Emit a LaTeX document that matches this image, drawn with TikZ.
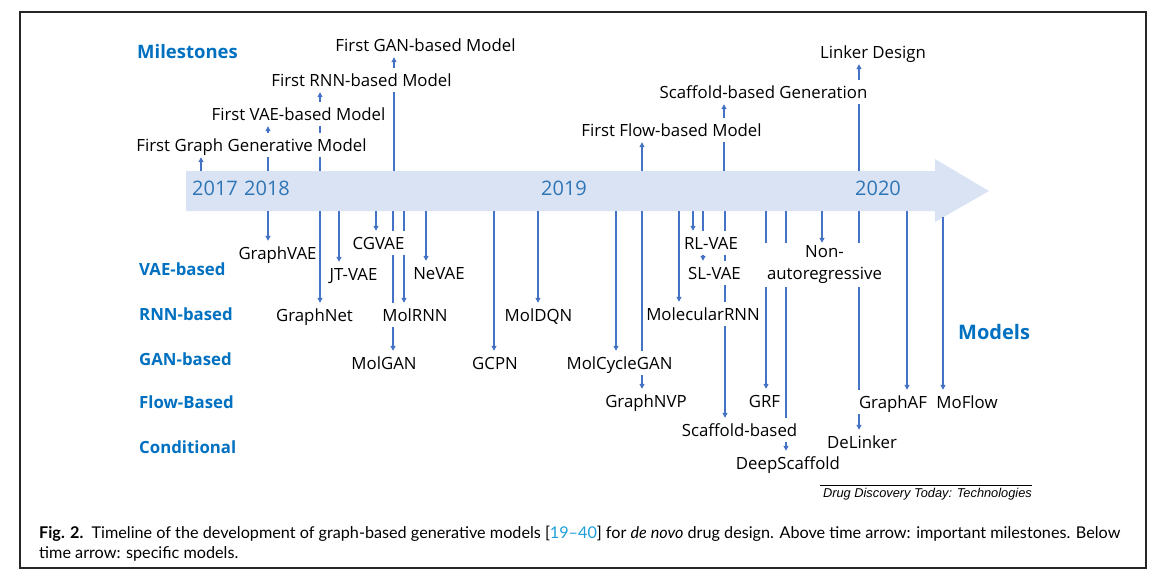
\documentclass[tikz,border=0pt]{standalone}
\usepackage{fontspec}
\setmainfont{Open Sans}
\newfontfamily\capfont[Ligatures=TeX]{Lato}
\newfontfamily\srcfont{Liberation Sans}
\usetikzlibrary{arrows.meta}
\definecolor{lineblue}{HTML}{4472C4}
\definecolor{bandblue}{HTML}{DAE3F3}
\definecolor{yearblue}{HTML}{2E75B6}
\definecolor{headblue}{HTML}{0070C0}
\definecolor{refblue}{HTML}{1E9FD8}
\definecolor{framegray}{HTML}{262626}
\pgfdeclarelayer{bg}
\pgfsetlayers{bg,main}
\begin{document}
\begin{tikzpicture}[x=1pt,y=-1pt,
  lbl/.style={fill=white, font=\fontsize{16.8}{20}\selectfont, inner xsep=1.5pt, inner ysep=2pt, text height=16pt, text depth=4pt},
  head/.style={font=\bfseries\fontsize{16.8}{20}\selectfont, text=headblue, anchor=west, inner sep=0pt},
  year/.style={font=\fontsize{20}{24}\selectfont, text=yearblue, inner sep=0pt},
  conn/.style={draw=lineblue, line width=1.2pt, -{Triangle[length=5pt,width=5pt]}}]
\useasboundingbox (0,0) rectangle (1153,574);
\draw[framegray, line width=1.5pt] (20,12) rectangle (1146,568);

% milestones
\node[head, font=\bfseries\fontsize{18.5}{22}\selectfont] (hmile) at (137,52) {Milestones};
\node[lbl] (m1) at (251.5,145) {First Graph Generative Model};
\node[lbl] (m2) at (298.5,114) {First VAE-based Model};
\node[lbl] (m3) at (361.5,80) {First RNN-based Model};
\node[lbl] (m4) at (425.5,45) {First GAN-based Model};
\node[lbl] (m5) at (671.5,130) {First Flow-based Model};
\node[lbl] (m6) at (763.5,92) {Scaffold-based Generation};
\node[lbl] (m7) at (873,52) {Linker Design};

% years
\node[year] (y17) at (215,188) {2017};
\node[year] (y18) at (267,188) {2018};
\node[year] (y19) at (564,188) {2019};
\node[year] (y20) at (878,188) {2020};

% row headings
\node[head] (hvae) at (139,269) {VAE-based};
\node[head] (hrnn) at (139,314) {RNN-based};
\node[head] (hgan) at (139,359) {GAN-based};
\node[head] (hflow) at (139,402) {Flow-Based};
\node[head] (hcond) at (139,447) {Conditional};
\node[head, font=\bfseries\fontsize{20}{24}\selectfont] (hmod) at (958,332) {Models};

% models
\node[lbl] (gvae) at (277.5,253) {GraphVAE};
\node[lbl] (gnet) at (314.5,315) {GraphNet};
\node[lbl] (jtvae) at (353.5,274) {JT-VAE};
\node[lbl] (cgvae) at (378.5,243) {CGVAE};
\node[lbl] (molgan) at (384,363) {MolGAN};
\node[lbl] (molrnn) at (415,315) {MolRNN};
\node[lbl] (nevae) at (439,273) {NeVAE};
\node[lbl] (gcpn) at (495,363) {GCPN};
\node[lbl] (moldqn) at (538.5,315) {MolDQN};
\node[lbl] (mcgan) at (619.5,363) {MolCycleGAN};
\node[lbl] (gnvp) at (646,401) {GraphNVP};
\node[lbl] (mrnn) at (703,314) {MolecularRNN};
\node[lbl] (rlvae) at (711,243) {RL-VAE};
\node[lbl] (slvae) at (714.5,273) {SL-VAE};
\node[lbl] (scaf) at (739.5,430) {Scaffold-based};
\node[lbl] (grf) at (764.5,401) {GRF};
\node[lbl] (dscaf) at (788,463) {DeepScaffold};
\node[fill=white, font=\fontsize{16.8}{22}\selectfont, inner xsep=3pt, inner ysep=3pt, align=center] (nonar) at (824.5,265) {Non-\\autoregressive};
\node[lbl] (delink) at (862,442) {DeLinker};
\node[lbl] (gaf) at (893,402) {GraphAF};
\node[lbl] (moflow) at (967,402) {MoFlow};

% caption and source
\node[font=\srcfont\itshape\fontsize{12.8}{15}\selectfont, anchor=east, inner sep=0pt] (src) at (1032,494) {Drug Discovery Today: Technologies};
\coordinate (srcL) at (820,485);
\coordinate (srcR) at (1032,485);
\draw[black, line width=0.6pt] (srcL) -- (srcR);
\node[font=\capfont\fontsize{16.2}{19.5}\selectfont, anchor=north west, align=left, inner sep=0pt] (cap) at (39,526)
 {\textbf{Fig. 2.}\ \ Timeline of the development of graph-based generative models [\textcolor{refblue}{19–40}] for \textit{de novo} drug design. Above time arrow: important milestones. Below\\time arrow: specific models.};

\coordinate (bandT) at (0,171);
\coordinate (bandB) at (0,211);
\coordinate (headB) at (0,217);
\begin{pgfonlayer}{bg}
\fill[bandblue] (186,171) -- (935,171) -- (935,159) -- (989,191) -- (935,222) -- (935,211) -- (186,211) -- cycle;
\foreach \x/\n in {201/m1,268/m2,320/m3,394/m4,642/m5,724/m6,859/m7}
  \draw[conn] (\x,0 |- bandT) -- (\x,0 |- \n.south);
\foreach \x/\n in {268/gvae,320/gnet,339/jtvae,376/cgvae,393/molgan,404/molrnn,426/nevae,494/gcpn,538/moldqn,616/mcgan,642/gnvp,679/mrnn,693/rlvae,703/slvae,725/scaf,766/grf,786/dscaf,822/nonar,859/delink,907/gaf}
  \draw[conn] (\x,0 |- bandB) -- (\x,0 |- \n.north);
\draw[conn] (943,0 |- headB) -- (943,0 |- moflow.north);
\end{pgfonlayer}
\end{tikzpicture}
\end{document}
